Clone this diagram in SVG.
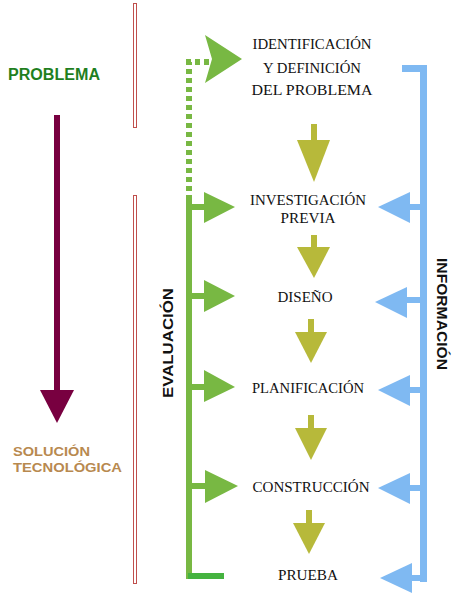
<svg xmlns="http://www.w3.org/2000/svg" width="459" height="600" viewBox="0 0 459 600">
<style>
.step{font-family:"Liberation Serif",serif;font-size:15px;fill:#111;text-anchor:middle}
.side{font-family:"Liberation Sans",sans-serif;font-weight:bold;font-size:14px;fill:#111;text-anchor:middle}
.gr{fill:#78b843}
.bl{fill:#7fb9f2}
.ol{fill:#b7b93a}
</style>
<rect width="459" height="600" fill="#fff"/>
<g id="sep">
<rect x="133.5" y="3.5" width="3" height="124" fill="none" stroke="#c0504d" stroke-width="1"/>
<rect x="133.5" y="195.5" width="3" height="388" fill="none" stroke="#c0504d" stroke-width="1"/>
</g>
<g id="problema"><text x="8" y="80" font-family="Liberation Sans,sans-serif" font-weight="bold" font-size="16" fill="#1f7f1f" textLength="92" lengthAdjust="spacingAndGlyphs">PROBLEMA</text></g>
<g id="solucion" font-family="Liberation Sans,sans-serif" font-weight="bold" font-size="12" fill="#b8894f">
<text x="13" y="456" textLength="77" lengthAdjust="spacingAndGlyphs">SOLUCIÓN</text>
<text x="13" y="472" textLength="109" lengthAdjust="spacingAndGlyphs">TECNOLÓGICA</text>
</g>
<g id="maroon-arrow" fill="#780040">
<rect x="54" y="115" width="6" height="276"/>
<polygon points="40,390 74,390 57,423"/>
</g>
<g id="n1"><text class="step" font-size="20" y="49" x="312" textLength="119" lengthAdjust="spacingAndGlyphs">IDENTIFICACIÓN</text>
<text class="step" font-size="20" y="73" x="312" textLength="98" lengthAdjust="spacingAndGlyphs">Y DEFINICIÓN</text>
<text class="step" font-size="20" y="95" x="312" textLength="121" lengthAdjust="spacingAndGlyphs">DEL PROBLEMA</text></g>
<g id="n2"><text class="step" x="308" y="205" textLength="116" lengthAdjust="spacingAndGlyphs">INVESTIGACIÓN</text>
<text class="step" x="308" y="223" textLength="55" lengthAdjust="spacingAndGlyphs">PREVIA</text></g>
<g id="n3"><text class="step" x="305" y="302" textLength="55" lengthAdjust="spacingAndGlyphs">DISEÑO</text></g>
<g id="n4"><text class="step" x="308" y="393" textLength="112" lengthAdjust="spacingAndGlyphs">PLANIFICACIÓN</text></g>
<g id="n5"><text class="step" x="311" y="492" textLength="117" lengthAdjust="spacingAndGlyphs">CONSTRUCCIÓN</text></g>
<g id="n6"><text class="step" x="308" y="580" textLength="60" lengthAdjust="spacingAndGlyphs">PRUEBA</text></g>
<g id="evaluacion"><text class="side" transform="translate(173,343) rotate(-90)" textLength="110" lengthAdjust="spacingAndGlyphs">EVALUACIÓN</text></g>
<g id="informacion"><text class="side" transform="translate(437,314) rotate(90)" textLength="112" lengthAdjust="spacingAndGlyphs">INFORMACIÓN</text></g>
<g id="connectors">
<g id="olive-arrows" class="ol">
<rect x="311" y="124" width="6" height="17"/><polygon points="297,140 330,140 314,182"/>
<rect x="311" y="235" width="6" height="13"/><polygon points="297,247 330,247 314,278"/>
<rect x="308" y="319" width="6" height="14"/><polygon points="295,332 327,332 311,363"/>
<rect x="308" y="415" width="6" height="14"/><polygon points="295,428 327,428 311,460"/>
<rect x="306" y="510" width="6" height="14"/><polygon points="293,523 325,523 309,554"/>
</g>
<g id="evaluation">
<path d="M189,200 V62 H212" fill="none" stroke="#78b843" stroke-width="6" stroke-dasharray="5 4"/>
<polygon class="gr" points="205,35 242,59 205,83 212,59"/>
<rect class="gr" x="186" y="200" width="6" height="379"/>
<rect x="188" y="573" width="36" height="6" fill="#45b340"/>
<rect class="gr" x="189" y="204" width="17" height="6"/><polygon class="gr" points="204,192 235,207 204,223"/>
<rect class="gr" x="189" y="293" width="17" height="6"/><polygon class="gr" points="204,280 235,296 204,312"/>
<rect class="gr" x="189" y="384" width="17" height="6"/><polygon class="gr" points="204,370 235,387 204,402"/>
<rect class="gr" x="189" y="483" width="18" height="6"/><polygon class="gr" points="205,470 238,486 205,503"/>
</g>
<g id="information">
<rect class="bl" x="402" y="65" width="25" height="7"/>
<rect class="bl" x="420" y="65" width="7" height="517"/>
<rect class="bl" x="408" y="204" width="14" height="6"/><polygon class="bl" points="410,192 378,207 410,223"/>
<rect class="bl" x="405" y="297" width="17" height="6"/><polygon class="bl" points="407,287 375,302 407,318"/>
<rect class="bl" x="408" y="387" width="14" height="6"/><polygon class="bl" points="410,375 378,390 410,406"/>
<rect class="bl" x="408" y="485" width="14" height="6"/><polygon class="bl" points="410,473 378,488 410,504"/>
<rect class="bl" x="410" y="575" width="14" height="6"/><polygon class="bl" points="412,563 380,578 412,593"/>
</g>
</g>
</svg>
